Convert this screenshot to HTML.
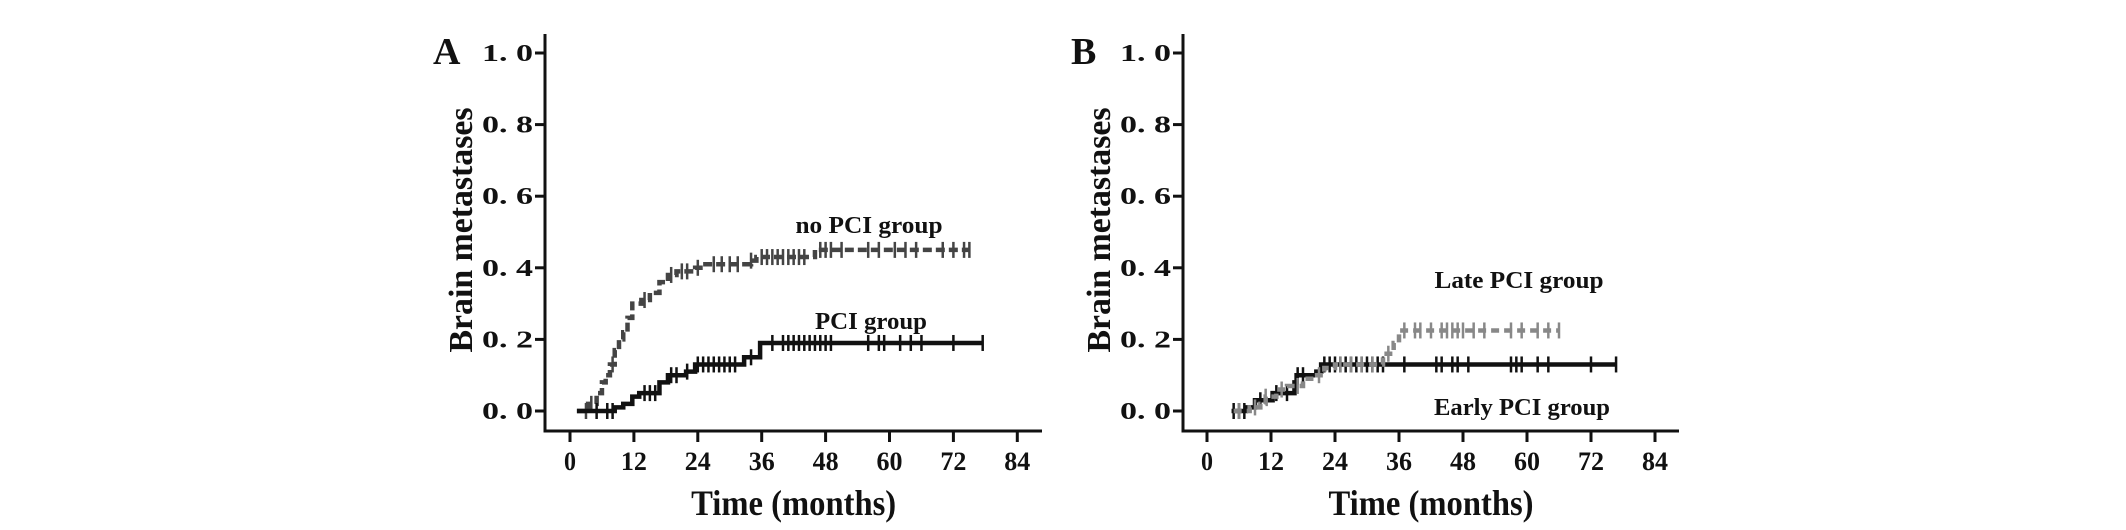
<!DOCTYPE html>
<html><head><meta charset="utf-8"><style>
html,body{margin:0;padding:0;background:#fff;}
svg{display:block;}
text{font-family:"Liberation Serif",serif;font-weight:bold;fill:#111;}
</style></head><body>
<svg id="fig" width="2126" height="530" viewBox="0 0 2126 530"></svg>
<script>
// Shared axis ticks
const xTicks = [0,12,24,36,48,60,72,84];
const yTicks = [0,0.2,0.4,0.6,0.8,1.0];
const yTickLabels = ["0. 0","0. 2","0. 4","0. 6","0. 8","1. 0"];
// Panel A data
const noPciT = [1.3,3.4,5,6,6.7,7.5,8.4,9.2,10,10.8,11.7,13.4,15,16.8,18.4,20,23.5,25,34,35,46];
const noPciV = [0,0.02,0.05,0.08,0.1,0.13,0.17,0.2,0.22,0.26,0.3,0.31,0.33,0.36,0.38,0.39,0.40,0.41,0.42,0.43,0.45];
const noPciEnd = 75;
const noPciCens = [3,4,8,14,19,21,22,24,27,28.5,30,31.5,34,36,37,38,39,40,41,42,43,44,47,48,49,51,56,58,61,63,65,70,72,74,75];
const pciT = [1.3,8.4,10,11.7,13,16.8,18.4,21.8,23.5,32.7,35.7];
const pciV = [0,0.01,0.02,0.04,0.05,0.08,0.10,0.11,0.13,0.15,0.19];
const pciEnd = 77.5;
const pciCens = [5,7,8,14,15,16,19,20,22,24,25,26,27,28,29,30,31,34,38,40,41,42,43,44,45,46,47,48,49,56,58,59,62,64,66,72,77.5];
// Panel B data
const lateT = [5,8,10,11,13,15,18,20,22,24,33,35,36];
const lateV = [0,0.01,0.02,0.04,0.06,0.07,0.09,0.10,0.12,0.13,0.16,0.19,0.225];
const lateEnd = 66;
const lateCens = [6,9,11,14,17,21,25,27,29,31,34,37,39,40,42,44,45,46,47,48,50,52,57,59,62,64,66];
const earlyT = [4.6,7.3,9,12.3,16.4,16.8,20.5,21.4];
const earlyV = [0,0.01,0.03,0.05,0.08,0.10,0.11,0.13];
const earlyEnd = 76.7;
const earlyCens = [5,6,7,10,13,15,17,18,22,23,24,25,26,27,28,29,30,31,32,33,37,43,44,46,47,49,57,58,59,62,64,72,76.7];

const NS="http://www.w3.org/2000/svg";
const svg=document.getElementById('fig');
function mk(tag,attrs,parent){const e=document.createElementNS(NS,tag);for(const k in attrs)e.setAttribute(k,attrs[k]);(parent||svg).appendChild(e);return e;}

function panel(p){
  const g=mk('g',{});
  
  
  const X=m=>p.x0+m*p.pm, Y=v=>411-v*358;
  const ax=mk('path',{d:`M${p.ax},34 L${p.ax},431 L${p.xEnd},431`,stroke:'#111','stroke-width':3,fill:'none'},g);
  
  
  yTicks.forEach((v,i)=>{
    mk('line',{x1:p.ax-10,x2:p.ax,y1:Y(v),y2:Y(v),stroke:'#111','stroke-width':3},g);
    const t=mk('text',{x:p.ax-12,y:Y(v)+8,'text-anchor':'end','font-size':24,textLength:51,lengthAdjust:'spacingAndGlyphs'},g);
    t.textContent=yTickLabels[i];
    
    
  });
  xTicks.forEach(m=>{
    mk('line',{x1:X(m),x2:X(m),y1:431,y2:442,stroke:'#111','stroke-width':3},g);
    const t=mk('text',{x:X(m),y:470,'text-anchor':'middle','font-size':26,textLength:m<10?12:26,lengthAdjust:'spacingAndGlyphs'},g);
    t.textContent=m;
    
    
  });
  const xt=mk('text',{x:p.x0+42*p.pm,y:515,'text-anchor':'middle','font-size':36,textLength:205,lengthAdjust:'spacingAndGlyphs'},g);
  xt.textContent='Time (months)';
  
  
  const yt=mk('text',{x:0,y:0,'text-anchor':'middle','font-size':34,transform:`translate(${p.ax-73},230) rotate(-90)`,textLength:245,lengthAdjust:'spacingAndGlyphs'},g);
  yt.textContent='Brain metastases';
  
  
  const pl=mk('text',{x:p.ax-112,y:64,'font-size':38},g);
  pl.textContent=p.letter;
  
  
  p.series.forEach(s=>{
    let d=`M${X(s.t[0])},${Y(s.v[0])}`;
    for(let i=1;i<s.t.length;i++){d+=` H${X(s.t[i])} V${Y(s.v[i])}`;}
    d+=` H${X(s.end)}`;
    const path=mk('path',{d,stroke:s.color,'stroke-width':4.5,fill:'none','stroke-dasharray':s.dash||'none'},g);
    
    
    s.c.forEach(m=>{
      let v=s.v[0];for(let i=0;i<s.t.length;i++){if(s.t[i]<=m)v=s.v[i];}
      const c=mk('line',{x1:X(m),x2:X(m),y1:Y(v)-8,y2:Y(v)+8,stroke:s.color,'stroke-width':2.5},g);
      
      
    });
  });
  p.labels.forEach(l=>{
    const t=mk('text',{x:l[1],y:l[2],'text-anchor':'middle','font-size':24,textLength:l[3],lengthAdjust:'spacingAndGlyphs'},g);
    t.textContent=l[0];
    
    
  });
}
panel({name:'panel-a',letter:'A',ax:545,xEnd:1042,x0:570,pm:63.9/12,
  series:[{name:'no-pci',t:noPciT,v:noPciV,end:noPciEnd,c:noPciCens,color:'#444',dash:'9 4'},
          {name:'pci',t:pciT,v:pciV,end:pciEnd,c:pciCens,color:'#111'}],
  labels:[['no PCI group',869,233,147],['PCI group',871,329,112]]});
panel({name:'panel-b',letter:'B',ax:1183,xEnd:1679,x0:1207,pm:64/12,
  series:[{name:'early-pci',t:earlyT,v:earlyV,end:earlyEnd,c:earlyCens,color:'#111'},
          {name:'late-pci',t:lateT,v:lateV,end:lateEnd,c:lateCens,color:'#888',dash:'8 5'}],
  labels:[['Late PCI group',1519,288,169],['Early PCI group',1522,415,176]]});
</script>
</body></html>
